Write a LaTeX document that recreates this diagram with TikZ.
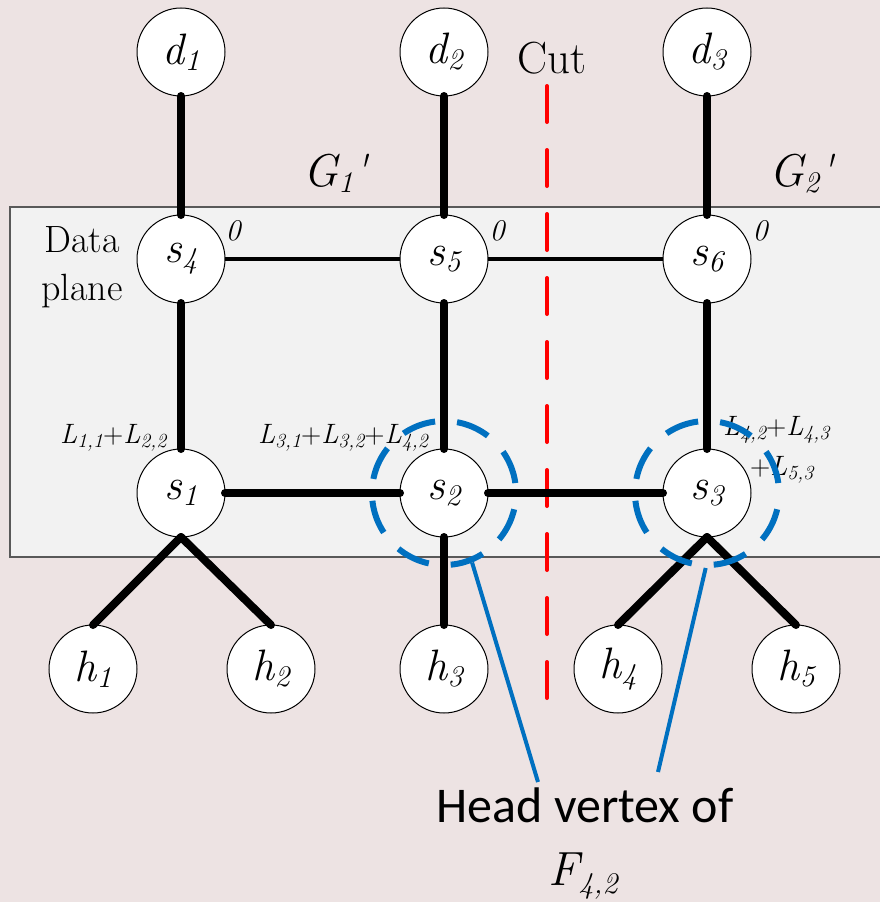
\documentclass[tikz,border=0pt]{standalone}
\usepackage{fontspec}
\newfontfamily\calibfont{Carlito}
\newcommand{\vsub}[1]{\raisebox{-6pt}{\fontsize{30}{32}\selectfont #1}}
\newcommand{\lsub}[1]{\raisebox{-4pt}{\fontsize{20}{22}\selectfont #1}}
\tikzset{
  vertex/.style={circle,draw=black,line width=1pt,fill=white,minimum size=88pt,inner sep=0pt,outer sep=0pt,
    font=\itshape\fontsize{44}{48}\selectfont},
  fatlink/.style={draw=black,line width=8pt,line cap=round},
  slimlink/.style={draw=black,line width=3.5pt},
  headring/.style={circle,draw={rgb,255:red,0;green,112;blue,192},line width=6pt,minimum size=144pt,inner sep=0pt,
    dash pattern=on 34pt off 22pt,dash phase=46pt},
  pointer/.style={draw={rgb,255:red,0;green,112;blue,192},line width=4pt},
  cutline/.style={draw=red,line width=4pt,line cap=round,dash pattern=on 36pt off 28pt},
  txt/.style={inner sep=0pt,outer sep=0pt,anchor=base},
}
\begin{document}
\begin{tikzpicture}[x=1pt,y=-1pt]
\path[use as bounding box] (0,0) rectangle (880,902);
\path[fill={rgb,255:red,237;green,227;blue,227},draw=none] (0,0) rectangle (880,902);
% data plane
\path[fill={rgb,255:red,242;green,242;blue,242},draw={rgb,255:red,89;green,89;blue,89},line width=2.5pt] (10,207) rectangle (886,557);
\node[txt,font=\fontsize{38}{46}\selectfont] (dp1) at (82,252) {Data};
\node[txt,font=\fontsize{38}{46}\selectfont] (dp2) at (82,300) {plane};
% cut
\coordinate (cuttop) at (547,86);
\coordinate (cutbot) at (547,702);
\draw[cutline] (cuttop) -- (cutbot);
\node[txt,font=\fontsize{45}{50}\selectfont] (cut) at (552,73) {Cut};
\node[txt,font=\itshape\fontsize{46}{50}\selectfont] (g1) at (335,186) {G\vsub{1}\textquotesingle};
\node[txt,font=\itshape\fontsize{46}{50}\selectfont] (g2) at (801,186) {G\vsub{2}\textquotesingle};
% vertices
\node[vertex] (d1) at (181,52) {d\vsub{1}};
\node[vertex] (d2) at (444,52) {d\vsub{2}};
\node[vertex] (d3) at (707,52) {d\vsub{3}};
\node[vertex] (s4) at (181,259) {s\vsub{4}};
\node[vertex] (s5) at (444,259) {s\vsub{5}};
\node[vertex] (s6) at (707,259) {s\vsub{6}};
\node[vertex] (s1) at (181,493) {s\vsub{1}};
\node[vertex] (s2) at (444,493) {s\vsub{2}};
\node[vertex] (s3) at (707,493) {s\vsub{3}};
\node[vertex] (h1) at (93,669) {h\vsub{1}};
\node[vertex] (h2) at (271,669) {h\vsub{2}};
\node[vertex] (h3) at (444,669) {h\vsub{3}};
\node[vertex] (h4) at (618,669) {h\vsub{4}};
\node[vertex] (h5) at (796,669) {h\vsub{5}};
% links
\draw[fatlink] (d1) -- (s4);
\draw[fatlink] (d2) -- (s5);
\draw[fatlink] (d3) -- (s6);
\draw[slimlink] (s4) -- (s5);
\draw[slimlink] (s5) -- (s6);
\draw[fatlink] (s4) -- (s1);
\draw[fatlink] (s5) -- (s2);
\draw[fatlink] (s6) -- (s3);
\draw[fatlink] (s1) -- (s2);
\draw[fatlink] (s2) -- (s3);
\draw[fatlink] (s1.south) -- (h1.north);
\draw[fatlink] (s1.south) -- (h2.north);
\draw[fatlink] (s2.south) -- (h3.north);
\draw[fatlink] (s3.south) -- (h4.north);
\draw[fatlink] (s3.south) -- (h5.north);
% weights
\node[txt,font=\itshape\fontsize{30}{34}\selectfont] (w4) at (233,240) {0};
\node[txt,font=\itshape\fontsize{30}{34}\selectfont] (w5) at (497,240) {0};
\node[txt,font=\itshape\fontsize{30}{34}\selectfont] (w6) at (760,240) {0};
\node[txt,anchor=base west,font=\itshape\fontsize{28}{32}\selectfont] (l1) at (60,443) {L\lsub{1,1}\upshape+\itshape L\lsub{2,2}};
\node[txt,anchor=base west,font=\itshape\fontsize{28}{32}\selectfont] (l2) at (258,443) {L\lsub{3,1}\upshape+\itshape L\lsub{3,2}\upshape+\itshape L\lsub{4,2}};
\node[txt,anchor=base west,font=\itshape\fontsize{28}{32}\selectfont] (l3) at (723,435) {L\lsub{4,2}\upshape+\itshape L\lsub{4,3}};
\node[txt,anchor=base west,font=\itshape\fontsize{28}{32}\selectfont] (l4) at (750,475) {\upshape+\itshape L\lsub{5,3}};
% head vertex rings
\node[headring] (ring2) at (s2) {};
\node[headring] (ring3) at (s3) {};
\node[txt,font=\calibfont\fontsize{50}{56}\selectfont] (head) at (585,822) {Head vertex of};
\node[txt,anchor=base west,font=\itshape\fontsize{48}{54}\selectfont] (flow) at (548,885) {F\raisebox{-8pt}{\fontsize{30}{34}\selectfont 4,2}};
\coordinate (tipa) at (538,782);
\coordinate (tipb) at (658,772);
\draw[pointer] (ring2.-68) -- (tipa);
\draw[pointer] (ring3.-91) -- (tipb);
\end{tikzpicture}
\end{document}
